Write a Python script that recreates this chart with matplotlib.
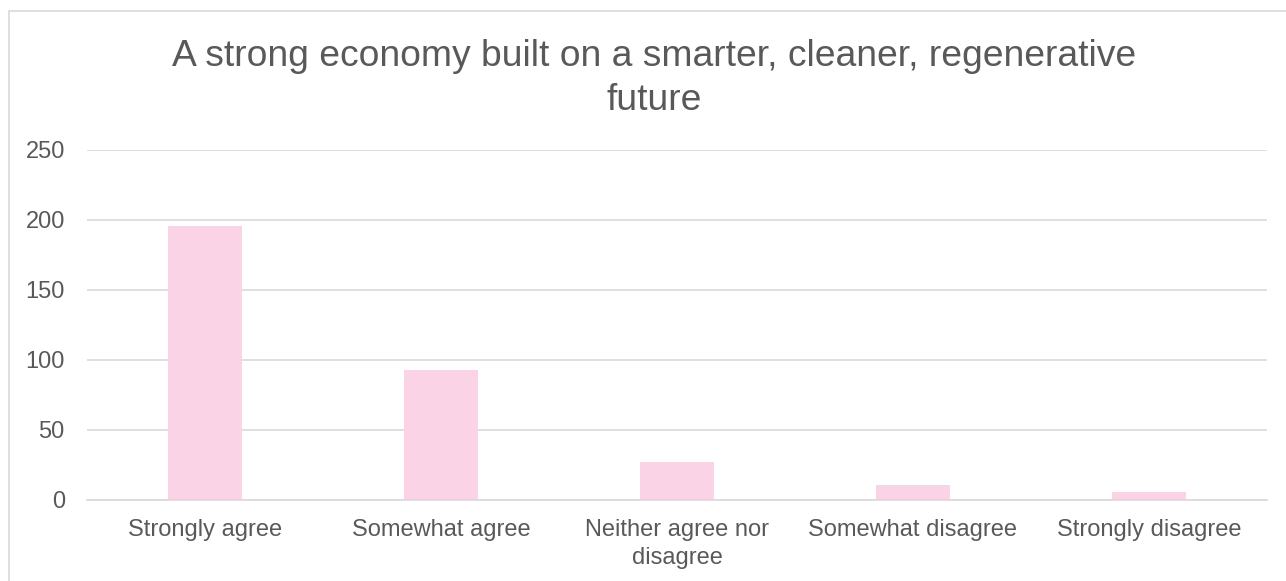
import matplotlib.pyplot as plt
from matplotlib.patches import Rectangle

# survey responses
categories = ['Strongly agree', 'Somewhat agree', 'Neither agree nor\ndisagree',
              'Somewhat disagree', 'Strongly disagree']
counts = [196, 93, 27, 11, 6]
yticks = [0, 50, 100, 150, 200, 250]

W, H = 1286, 581
fig = plt.figure(figsize=(W / 100, H / 100), dpi=100)
plt.rcParams['font.family'] = ['Liberation Sans', 'DejaVu Sans']

# chart border (runs off the right and bottom edges)
fig.patches.append(Rectangle((9 / W, -0.05), 1.2, 1 - 11 / H + 0.05,
                             transform=fig.transFigure, fill=False,
                             edgecolor='#d9d9d9', linewidth=1.2))

ax = fig.add_axes([87 / W, 1 - 500 / H, (1267 - 87) / W, 350 / H])
ax.bar(range(len(categories)), counts, width=0.315, color='#fad3e6', zorder=2)

ax.set_xlim(-0.5, len(categories) - 0.5)
ax.set_ylim(0, 250)
ax.set_yticks(yticks)
ax.set_xticks(range(len(categories)))
ax.set_xticklabels(categories, linespacing=1.3)
ax.grid(axis='y', color='#d9d9d9', linewidth=1.2, zorder=0)
for s in ['top', 'right', 'left']:
    ax.spines[s].set_visible(False)
ax.spines['bottom'].set_color('#d9d9d9')
ax.spines['bottom'].set_linewidth(1.2)
ax.tick_params(axis='both', length=0, labelsize=17, labelcolor='#595959')
ax.tick_params(axis='y', pad=16)
ax.tick_params(axis='x', pad=14)

fig.text(654 / W, 1 - 78.5 / H,
         'A strong economy built on a smarter, cleaner, regenerative\nfuture',
         ha='center', va='center', fontsize=26.8, color='#595959', linespacing=1.33)

fig.savefig('out.png', dpi=100, facecolor='white')
